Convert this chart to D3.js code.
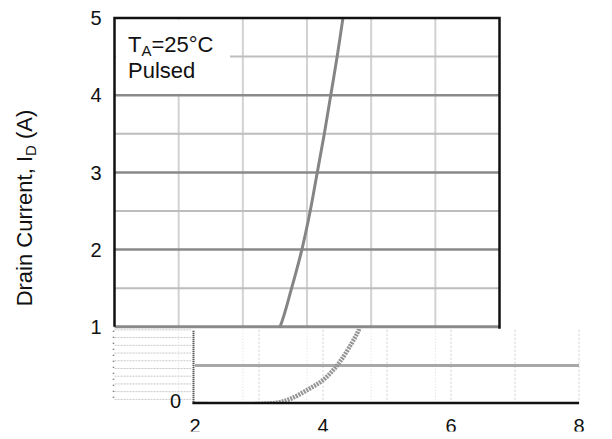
<!DOCTYPE html>
<meta charset="utf-8">
<html lang="en-us">
  <head>
    <script src="https://cdn.jsdelivr.net/npm/d3@7"></script>
    <style>
      body { margin: 0; background: #fff; }
      text { font-family: Arial, "Liberation Sans", sans-serif; fill: #111; }
    </style>
  </head>
  <body>
  <div id="chart"></div>
  <script>
    // transfer curve, gate-source voltage (V) vs drain current (A)
    const vgs = [2.0, 3.0, 3.3, 3.5, 3.75, 4.0, 4.22, 4.4, 4.58, 4.76, 4.92, 5.05, 5.16, 5.27, 5.37, 5.47, 5.56];
    const id  = [0.0, 0.0, 0.02, 0.07, 0.18, 0.31, 0.5, 0.72, 1.0, 1.5, 2.0, 2.5, 3.0, 3.5, 4.0, 4.5, 5.0];
    const yTicksTop = [1, 2, 3, 4, 5];
    const yTicksBottom = [0];
    const xTicks = [2, 4, 6, 8];
    const majorLines = [1, 2, 3, 4];
    const minorLines = [1.5, 2.5, 3.5, 4.5];

    const W = 612, H = 439;
    const svg = d3.select('#chart').append('svg')
      .attr('width', W).attr('height', H);

    // the picture is split: the part below 1 A sits shifted to the right
    const xTop = d3.scaleLinear().domain([2, 8]).range([114.5, 499.5]);
    const xBot = d3.scaleLinear().domain([2, 8]).range([195, 579]);
    const y = d3.scaleLinear().domain([0, 5]).range([404, 18]);

    const pts = vgs.map((v, i) => [v, id[i]]);

    const defs = svg.append('defs');
    defs.append('clipPath').attr('id', 'clipTop').append('rect')
      .attr('x', xTop(2)).attr('y', y(5)).attr('width', xTop(8) - xTop(2)).attr('height', y(1) - y(5) + 1);
    defs.append('clipPath').attr('id', 'clipBot').append('rect')
      .attr('x', xBot(2)).attr('y', y(1) + 2).attr('width', xBot(8) - xBot(2)).attr('height', y(0) - y(1) - 2);
    defs.append('clipPath').attr('id', 'clipLabels').append('rect')
      .attr('x', 0).attr('y', 405).attr('width', W).attr('height', 26.5);

    // ---------- upper panel ----------
    const gTop = svg.append('g');

    gTop.selectAll('line.vgrid').data(d3.range(3, 8)).enter()
      .append('line').attr('class', 'vgrid')
      .attr('x1', d => xTop(d)).attr('x2', d => xTop(d))
      .attr('y1', y(5)).attr('y2', y(1))
      .attr('stroke', '#d2d2d2').attr('stroke-width', 2);

    gTop.selectAll('line.minor').data(minorLines).enter()
      .append('line').attr('class', 'minor')
      .attr('x1', xTop(2)).attr('x2', xTop(8))
      .attr('y1', d => y(d)).attr('y2', d => y(d))
      .attr('stroke', '#bdbdbd').attr('stroke-width', 2);

    gTop.selectAll('line.major').data(majorLines).enter()
      .append('line').attr('class', 'major')
      .attr('x1', xTop(2)).attr('x2', xTop(8))
      .attr('y1', d => y(d)).attr('y2', d => y(d))
      .attr('stroke', '#8a8a8a').attr('stroke-width', d => d === 1 ? 3 : 2.5);

    // legend box covers the grid in the corner
    gTop.append('rect')
      .attr('x', xTop(2) + 1.5).attr('y', y(5) + 1.5)
      .attr('width', 114).attr('height', y(4) - y(5) - 3)
      .attr('fill', '#fff');

    const line = d3.line().curve(d3.curveCatmullRom.alpha(0.5));

    gTop.append('path')
      .datum(pts.map(p => [xTop(p[0]), y(p[1])]))
      .attr('clip-path', 'url(#clipTop)')
      .attr('d', line)
      .attr('fill', 'none').attr('stroke', '#858585').attr('stroke-width', 3);

    // frame
    gTop.append('path')
      .attr('d', `M${xTop(2)},${y(1)}V${y(5)}H${xTop(8)}V${y(1) + 2}`)
      .attr('fill', 'none').attr('stroke', '#111').attr('stroke-width', 2.5);

    const leg = gTop.append('text').attr('x', 128).attr('y', 52).attr('font-size', 22);
    leg.append('tspan').text('T');
    leg.append('tspan').attr('font-size', 15).attr('dy', 4).text('A');
    leg.append('tspan').attr('dy', -4).text('=25°C');
    gTop.append('text').attr('x', 128).attr('y', 78).attr('font-size', 22).text('Pulsed');

    gTop.selectAll('text.ytick').data(yTicksTop).enter()
      .append('text').attr('class', 'ytick')
      .attr('x', 101.5).attr('y', d => y(d)).attr('dy', '0.36em')
      .attr('text-anchor', 'end').attr('font-size', 20)
      .text(d => d);

    const yt = svg.append('text')
      .attr('transform', 'translate(32,208) rotate(-90)')
      .attr('text-anchor', 'middle').attr('font-size', 22);
    yt.append('tspan').text('Drain Current, I');
    yt.append('tspan').attr('font-size', 15).attr('dy', 4).text('D');
    yt.append('tspan').attr('dy', -4).text(' (A)');

    // ---------- lower panel (shifted copy) ----------
    const gBot = svg.append('g');

    // faint leftover grid on the left strip
    gBot.selectAll('line.strip').data(d3.range(0.06, 1, 0.1)).enter()
      .append('line').attr('class', 'strip')
      .attr('x1', xTop(2)).attr('x2', xBot(2) - 4)
      .attr('y1', d => y(d)).attr('y2', d => y(d))
      .attr('stroke', '#c8c8c8').attr('stroke-width', 1)
      .attr('stroke-dasharray', '2,1');
    gBot.append('line')
      .attr('x1', xTop(2) - 1).attr('x2', xTop(2) - 1).attr('y1', y(1) + 4).attr('y2', y(0) - 4)
      .attr('stroke', '#555').attr('stroke-width', 1.5).attr('stroke-dasharray', '1,5');

    gBot.selectAll('line.vfaint').data(d3.range(3, 9)).enter()
      .append('line').attr('class', 'vfaint')
      .attr('x1', d => xBot(d)).attr('x2', d => xBot(d))
      .attr('y1', y(1) + 3).attr('y2', y(0))
      .attr('stroke', '#cfcfcf').attr('stroke-width', 1)
      .attr('stroke-dasharray', '2,2');

    gBot.selectAll('line.vfaintTop').data(d3.range(3, 8)).enter()
      .append('line').attr('class', 'vfaintTop')
      .attr('x1', d => xTop(d)).attr('x2', d => xTop(d))
      .attr('y1', y(1) + 3).attr('y2', y(0))
      .attr('stroke', '#dcdcdc').attr('stroke-width', 1)
      .attr('stroke-dasharray', '1,2');

    gBot.append('line')
      .attr('x1', xBot(2)).attr('x2', xBot(8))
      .attr('y1', y(0.5)).attr('y2', y(0.5))
      .attr('stroke', '#a8a8a8').attr('stroke-width', 3);

    gBot.append('path')
      .datum(pts.map(p => [xBot(p[0]), y(p[1])]))
      .attr('clip-path', 'url(#clipBot)')
      .attr('d', line)
      .attr('fill', 'none').attr('stroke', '#959595').attr('stroke-width', 4.5)
      .attr('stroke-dasharray', '2,1');

    gBot.append('line')
      .attr('x1', xBot(2) - 1.5).attr('x2', xBot(2) - 1.5).attr('y1', y(1) + 4).attr('y2', y(0))
      .attr('stroke', '#222').attr('stroke-width', 2).attr('stroke-dasharray', '1,1');
    gBot.append('line')
      .attr('x1', xBot(2) - 2.5).attr('x2', xBot(8)).attr('y1', y(0) - 1).attr('y2', y(0) - 1)
      .attr('stroke', '#111').attr('stroke-width', 2.5);

    gBot.selectAll('text.ytick0').data(yTicksBottom).enter()
      .append('text').attr('class', 'ytick0')
      .attr('x', 181).attr('y', d => y(d) - 3).attr('dy', '0.36em')
      .attr('text-anchor', 'end').attr('font-size', 20)
      .text(d => d);

    gBot.append('g').attr('clip-path', 'url(#clipLabels)')
      .selectAll('text').data(xTicks).enter()
      .append('text')
      .attr('x', d => xBot(d)).attr('y', 433)
      .attr('text-anchor', 'middle').attr('font-size', 20)
      .text(d => d);
  </script>
  </body>
</html>
